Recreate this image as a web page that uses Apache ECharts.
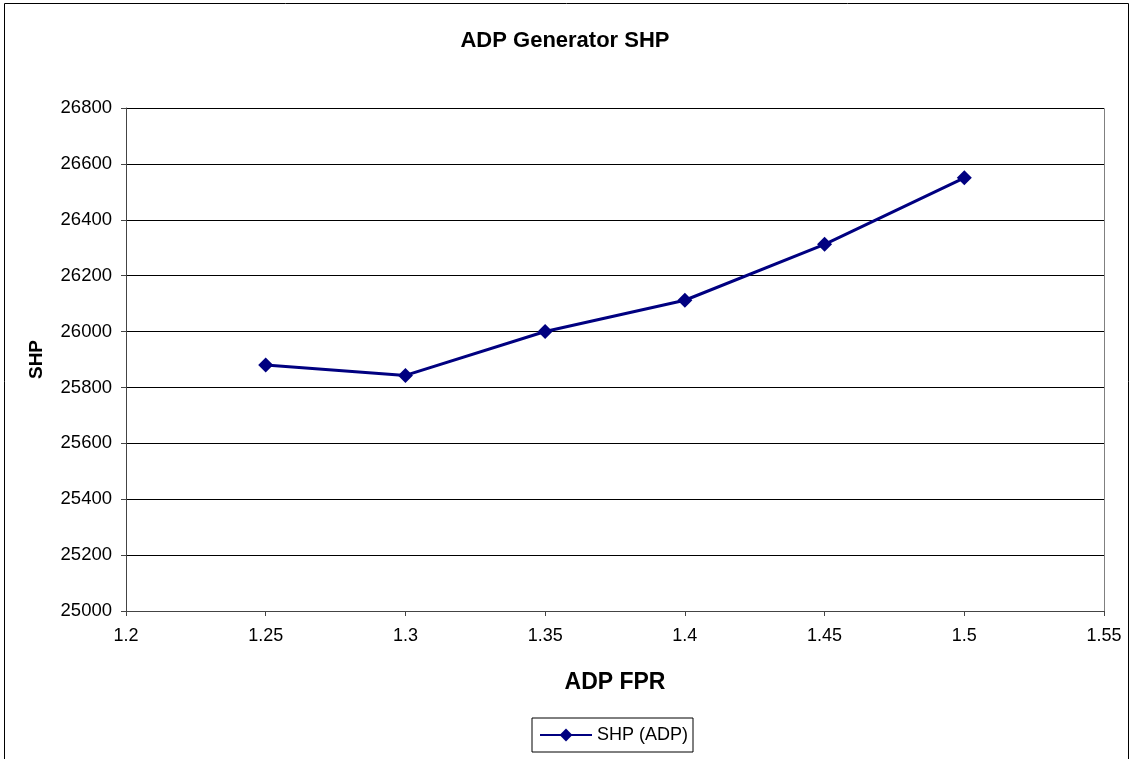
<!DOCTYPE html>
<html>
<head>
<meta charset="utf-8">
<script src="https://cdn.jsdelivr.net/npm/echarts@6/dist/echarts.min.js"></script>
<style>
  html, body { margin: 0; padding: 0; background: #fff; }
  #chart { width: 1130px; height: 759px; }
</style>
</head>
<body>
<div id="chart"></div>
<script>
// data
var fpr = [1.25, 1.3, 1.35, 1.4, 1.45, 1.5];
var shp = [25880, 25843, 26000, 26112, 26312, 26550];
var seriesName = 'SHP (ADP)';

var points = fpr.map(function (x, i) { return [x, shp[i]]; });

var chart = echarts.init(document.getElementById('chart'));
chart.setOption({
  animation: false,
  textStyle: { fontFamily: 'Liberation Sans, Arial, sans-serif' },
  title: {
    text: 'ADP Generator SHP',
    left: 'center',
    top: 25,
    textStyle: { fontSize: 22, fontWeight: 'bold', color: '#000' }
  },
  graphic: [{
    type: 'rect',
    shape: { x: 4.5, y: 3.5, width: 1124, height: 760 },
    style: { fill: 'none', stroke: '#000', lineWidth: 1 },
    silent: true
  }, {
    // top and right edges of the plot area
    type: 'polyline',
    shape: { points: [[126, 108.5], [1104.5, 108.5], [1104.5, 611]] },
    style: { fill: 'none', stroke: '#808080', lineWidth: 1 },
    silent: true
  }],
  legend: {
    data: [seriesName],
    top: 718,
    left: 532,
    itemWidth: 52,
    itemHeight: 16,
    borderColor: '#000',
    borderWidth: 1,
    padding: [8, 5, 8, 7],
    textStyle: { fontSize: 18, color: '#000' }
  },
  grid: { left: 126, right: 26, top: 108, bottom: 148, containLabel: false },
  xAxis: {
    type: 'value',
    min: 1.2,
    max: 1.55,
    interval: 0.05,
    name: 'ADP FPR',
    nameLocation: 'middle',
    nameGap: 60,
    nameTextStyle: { fontSize: 23, fontWeight: 'bold', color: '#000' },
    axisLine: { lineStyle: { color: '#444', width: 1 } },
    axisTick: { show: true, length: 5, lineStyle: { color: '#444' } },
    axisLabel: { fontSize: 18, color: '#000', margin: 16, formatter: function (v) { return String(+v.toFixed(2)); } },
    splitLine: { show: false }
  },
  yAxis: {
    type: 'value',
    min: 25000,
    max: 26800,
    interval: 200,
    name: 'SHP',
    nameLocation: 'middle',
    nameGap: 80,
    nameRotate: 90,
    nameTextStyle: { fontSize: 19, fontWeight: 'bold', color: '#000' },
    axisLine: { show: true, lineStyle: { color: '#444', width: 1 } },
    axisTick: { show: true, length: 5, lineStyle: { color: '#444' } },
    axisLabel: { fontSize: 18.5, color: '#000', margin: 14, formatter: function (v) { return String(v); } },
    splitLine: { show: true, lineStyle: { color: '#000', width: 1 } }
  },
  series: [{
    name: seriesName,
    type: 'line',
    data: points,
    symbol: 'diamond',
    symbolSize: 15,
    lineStyle: { color: '#000080', width: 3 },
    itemStyle: { color: '#000080' }
  }]
});
</script>
</body>
</html>
